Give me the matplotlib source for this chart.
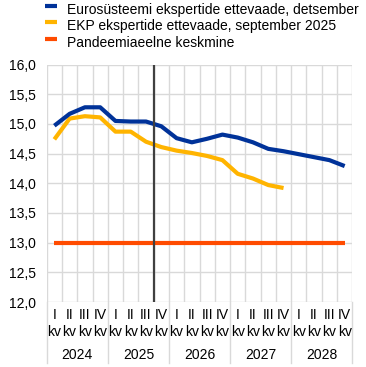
import numpy as np
import matplotlib
matplotlib.use('Agg')
import matplotlib.pyplot as plt
import matplotlib.transforms as mtransforms
from matplotlib.lines import Line2D

plt.rcParams['font.family'] = ['Liberation Sans', 'DejaVu Sans']
plt.rcParams['font.size'] = 10

years = ['2024', '2025', '2026', '2027', '2028']
quarters = ['I', 'II', 'III', 'IV']

eurosystem_dec = [14.97, 15.17, 15.28, 15.28, 15.05, 15.04, 15.04, 14.96, 14.76, 14.69,
                  14.75, 14.82, 14.77, 14.69, 14.58, 14.54, 14.49, 14.44, 14.39, 14.29]
ecb_sep = [14.74, 15.09, 15.13, 15.11, 14.87, 14.87, 14.70, 14.61, 14.55, 14.51,
           14.46, 14.39, 14.16, 14.08, 13.97, 13.92]
pre_pandemic = [13.0, 13.0, 13.0, 13.0, 13.0, 13.0, 13.0, 13.0, 13.0, 13.0,
                13.0, 13.0, 13.0, 13.0, 13.0, 13.0, 13.0, 13.0, 13.0, 13.0]

labels = ['Eurosüsteemi ekspertide ettevaade, detsember',
          'EKP ekspertide ettevaade, september 2025',
          'Pandeemiaeelne keskmine']
colors = ['#003299', '#FFB400', '#FF4B00']
grid_col = '#d9d9d9'

fig = plt.figure(figsize=(3.66, 3.67), dpi=100)
ax = fig.add_axes([0.1276, 0.1771, 0.835, 0.647])

x_all = np.arange(len(eurosystem_dec))
ax.plot(np.arange(len(pre_pandemic)), pre_pandemic, color=colors[2], lw=3, solid_capstyle='butt', zorder=3)
ax.plot(np.arange(len(ecb_sep)), ecb_sep, color=colors[1], lw=3, solid_capstyle='butt', zorder=4)
ax.plot(x_all, eurosystem_dec, color=colors[0], lw=3, solid_capstyle='butt', zorder=5)

# projection start marker
ax.axvline(6.5, color='#404040', lw=1.6, zorder=6)

ax.set_xlim(-0.5, 19.5)
ax.set_ylim(12, 16)
ax.set_yticks(np.arange(12, 16.01, 0.5))
ax.set_yticklabels([f'{v:.1f}'.replace('.', ',') for v in np.arange(12, 16.01, 0.5)])
ax.set_xticks(np.arange(-0.5, 20, 1))
ax.set_xticklabels([])
ax.tick_params(length=0, pad=8, labelsize=10)
ax.grid(True, color=grid_col, lw=1, zorder=0)
ax.set_axisbelow(True)
for s in ax.spines.values():
    s.set_visible(False)

trans = mtransforms.blended_transform_factory(ax.transData, ax.transAxes)
for i in range(len(years) * 4):
    ax.text(i, -0.073, quarters[i % 4], transform=trans, ha='center', va='baseline', fontsize=10)
    ax.text(i, -0.143, 'kv', transform=trans, ha='center', va='baseline', fontsize=10)
for j, yr in enumerate(years):
    ax.text(j * 4 + 1.5, -0.241, yr, transform=trans, ha='center', va='baseline', fontsize=10)
for b in np.arange(-0.5, 20, 4):
    ax.plot([b, b], [0, -0.257], transform=trans, color=grid_col, lw=1, clip_on=False)

# legend drawn by hand
H = 367.0
W = 366.0
for k, (lab, c) in enumerate(zip(labels, colors)):
    base = 14 + k * 16.4
    hy = base - 8
    fig.add_artist(Line2D([45 / W, 57 / W], [1 - hy / H, 1 - hy / H], color=c, lw=3,
                          solid_capstyle='butt', transform=fig.transFigure))
    fig.text(67 / W, 1 - base / H, lab, ha='left', va='baseline', fontsize=10)

fig.savefig('out.png', dpi=100)
